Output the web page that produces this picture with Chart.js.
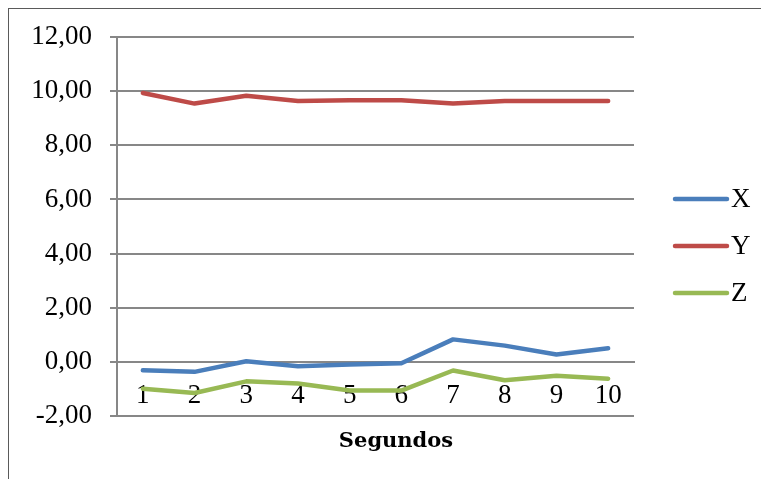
<!DOCTYPE html>
<html>
<head>
<meta charset="utf-8">
<script src="https://cdn.jsdelivr.net/npm/chart.js@4/dist/chart.umd.min.js"></script>
<style>
  html, body { margin: 0; padding: 0; background: #fff; }
  #wrap { position: relative; width: 761px; height: 479px; }
  #frame {
    position: absolute; left: 8px; top: 8px; right: -2px; bottom: -2px;
    border-top: 1px solid #5a5a5a; border-left: 1px solid #5a5a5a;
    pointer-events: none;
  }
</style>
</head>
<body>
<div id="wrap">
  <canvas id="chart" width="761" height="479"></canvas>
  <div id="frame"></div>
</div>
<script>
const segundos = ["1", "2", "3", "4", "5", "6", "7", "8", "9", "10"];
const serieX = [-0.31, -0.37, 0.02, -0.16, -0.10, -0.05, 0.83, 0.60, 0.27, 0.50];
const serieY = [9.93, 9.54, 9.83, 9.64, 9.66, 9.66, 9.54, 9.64, 9.64, 9.64];
const serieZ = [-0.99, -1.15, -0.72, -0.80, -1.06, -1.06, -0.32, -0.68, -0.51, -0.62];
const yTicks = [-2, 0, 2, 4, 6, 8, 10, 12];

const gridColor = "#878787";
const serif = "'Liberation Serif', 'Times New Roman', serif";

// legend drawn on the right, like the Excel one
const sideLegend = {
  id: "sideLegend",
  afterDraw(chart) {
    const c = chart.ctx;
    const rows = [199, 246, 293];
    c.save();
    c.font = "27px " + serif;
    c.textBaseline = "middle";
    c.lineCap = "round";
    chart.data.datasets.forEach((ds, i) => {
      c.strokeStyle = ds.borderColor;
      c.lineWidth = 4.5;
      c.beginPath();
      c.moveTo(675, rows[i]);
      c.lineTo(727, rows[i]);
      c.stroke();
      c.fillStyle = "#000";
      c.fillText(ds.label, 731, rows[i] + 1);
    });
    // axis title
    c.font = "bold 21px 'DejaVu Serif', serif";
    c.textAlign = "center";
    c.textBaseline = "alphabetic";
    c.fillText("Segundos", 396, 447);
    c.restore();
  },
};

const ctx = document.getElementById("chart");
new Chart(ctx, {
  type: "line",
  data: {
    labels: segundos,
    datasets: [
      { label: "X", data: serieX, borderColor: "#4a7ebb" },
      { label: "Y", data: serieY, borderColor: "#be4b48" },
      { label: "Z", data: serieZ, borderColor: "#98b954" },
    ],
  },
  options: {
    responsive: false,
    animation: false,
    elements: {
      line: { borderWidth: 4.5, tension: 0, borderCapStyle: "round", borderJoinStyle: "round", fill: false },
      point: { radius: 0 },
    },
    layout: { padding: { left: 0, top: 37, right: 127, bottom: 63 } },
    plugins: { legend: { display: false }, tooltip: { enabled: false } },
    scales: {
      x: {
        position: { y: 0 },
        offset: true,
        grid: { display: false, drawTicks: false },
        border: { display: true, color: gridColor, width: 2 },
        ticks: { color: "#000", font: { family: serif, size: 27 }, padding: 18, maxRotation: 0, autoSkip: false },
      },
      y: {
        min: -2,
        max: 12,
        afterFit: (scale) => { scale.width = 117; },
        afterBuildTicks: (scale) => { scale.ticks = yTicks.map((v) => ({ value: v })); },
        grid: { color: gridColor, lineWidth: 2, tickLength: 7 },
        border: { display: true, color: gridColor, width: 2 },
        ticks: {
          color: "#000",
          font: { family: serif, size: 27 },
          padding: 18,
          callback: (v) => v.toFixed(2).replace(".", ","),
        },
      },
    },
  },
  plugins: [sideLegend],
});
</script>
</body>
</html>
